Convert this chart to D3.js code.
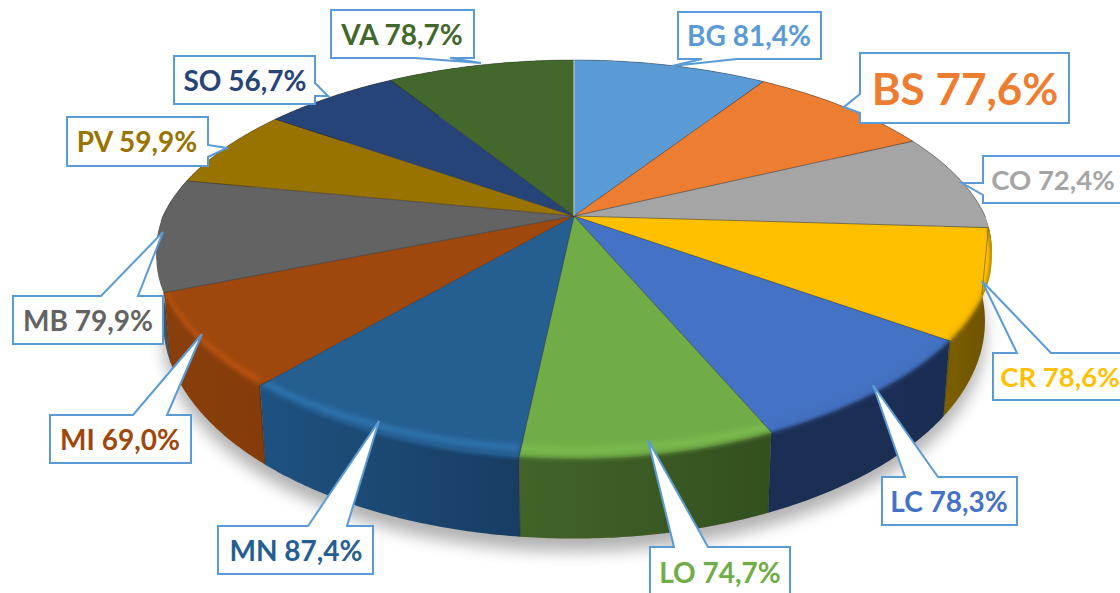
<!DOCTYPE html>
<html>
<head>
<meta charset="utf-8">
<script src="https://cdn.jsdelivr.net/npm/d3@7"></script>
<style>
  html, body { margin: 0; background: #fff; overflow: hidden; }
  svg { display: block; }
  .label { font-family: Lato, "Open Sans", sans-serif; font-weight: 700; text-anchor: middle; }
</style>
</head>
<body>
<svg id="chart"></svg>
<script>
// data
const provinces = ['BG', 'BS', 'CO', 'CR', 'LC', 'LO', 'MN', 'MI', 'MB', 'PV', 'SO', 'VA'];
const rates = [81.4, 77.6, 72.4, 78.6, 78.3, 74.7, 87.4, 69.0, 79.9, 59.9, 56.7, 78.7];

// styles per slice
const topColors = ['#5b9bd5', '#ed7d31', '#a5a5a5', '#ffc000', '#4472c4', '#70ad47', '#255e91', '#9e480e', '#636363', '#997300', '#264478', '#43682b'];
const wallLeft = ['#3a6c99', '#a85820', '#777777', '#7d5f00', '#1b2f55', '#426428', '#1e5280', '#8a3f0b', '#555555', '#6b5000', '#1a3055', '#2f4a1f'];
const wallRight = ['#3a6c99', '#a85820', '#777777', '#6d5200', '#1b2d52', '#33501f', '#183d63', '#843c0a', '#4a4a4a', '#6b5000', '#1a3055', '#2f4a1f'];
const bandColors = ['#5b9bd5', '#ed7d31', '#a5a5a5', '#f5b800', '#4270bf', '#7cbb50', '#2f74b0', '#b9530f', '#6c6c6c', '#997300', '#264478', '#43682b'];

// callout boxes: box [x0, y0, x1, y1], side the pointer leaves from, base on that side, tip, text centre
const callouts = [
  { box: [678, 12, 821, 59], side: 'bottom', base: [702, 737], tip: [672, 66], text: [749, 36], size: 28 },
  { box: [860, 53, 1069, 123], side: 'left', base: [94, 113], tip: [844, 107], text: [965, 89], size: 44 },
  { box: [983, 156, 1130, 203], side: 'left', base: [183, 195], tip: [962, 183], text: [1053, 180], size: 27.5 },
  { box: [993, 353, 1130, 400], side: 'top', base: [1017, 1051], tip: [982, 281], text: [1060, 377], size: 27.5 },
  { box: [882, 477, 1017, 525], side: 'top', base: [905, 938], tip: [873, 385], text: [949, 502], size: 28 },
  { box: [650, 547, 790, 610], side: 'top', base: [674, 708], tip: [648, 440], text: [720, 573], size: 28 },
  { box: [218, 526, 373, 574], side: 'top', base: [308, 347], tip: [379, 421], text: [296, 551], size: 28 },
  { box: [50, 415, 191, 463], side: 'top', base: [133, 167], tip: [202, 334], text: [120, 440], size: 28 },
  { box: [13, 296, 163, 344], side: 'top', base: [101, 138], tip: [163, 232], text: [88, 321], size: 28 },
  { box: [67, 117, 208, 166], side: 'right', base: [145, 157], tip: [227, 148], text: [137, 142], size: 28 },
  { box: [174, 56, 315, 104], side: 'right', base: [83, 96], tip: [328, 96], text: [245, 81], size: 28 },
  { box: [331, 10, 474, 58], side: 'bottom', base: [415, 450], tip: [481, 63], text: [402, 35], size: 28 }
];

const width = 1120, height = 593;
const cx = 574, cy = 216;
const radius = 411;
const tilt = 0.179;

const commaFormat = d3.formatLocale({ decimal: ',', thousands: '.', grouping: [3], currency: ['', ''] }).format('.1f');
const color = d3.scaleOrdinal().domain(provinces).range(topColors);

const pie = d3.pie().sort(null).value((d, i) => rates[i]);
const slices = pie(provinces);

// perspective projection of the disc, top and bottom faces
function topPoint(a, r = 1) {
  const u = r * Math.sin(a), v = -r * Math.cos(a);
  const p = 1 / (1 - tilt * v);
  return [cx + radius * u * p * (1 + 0.025 * Math.min(v, 0)), cy + 183.9 * v * p];
}
function bottomPoint(a, r = 1) {
  const u = r * Math.sin(a), v = -r * Math.cos(a);
  const p = 1 / (1 - tilt * v + 0.016);
  return [cx + radius * u * p, cy + (202 * v + 68) * p];
}
// how far the rounded edge runs down the wall, more on the front of the pie
function bevel(a) {
  const v = Math.max(-Math.cos(a), 0);
  return (7 + 12 * Math.pow(v, 4)) * Math.min(1, v / 0.25);
}
function rimPoint(a, share = 1) {
  const [x, y] = topPoint(a);
  return [x, y + bevel(a) * share];
}
function arcAngles(d) {
  const n = Math.ceil((d.endAngle - d.startAngle) / 0.01);
  return d3.range(n + 1).map(i => d.startAngle + (d.endAngle - d.startAngle) * i / n);
}
const midFront = d => -Math.cos((d.startAngle + d.endAngle) / 2);

const line = d3.line();

const svg = d3.select('#chart').attr('width', width).attr('height', height);
const defs = svg.append('defs');

const blur = (id, dev) => defs.append('filter')
  .attr('id', id)
  .attr('filterUnits', 'userSpaceOnUse')
  .attr('x', 0).attr('y', 0).attr('width', width).attr('height', height)
  .append('feGaussianBlur').attr('stdDeviation', dev);
blur('shadowBlur', 8);
blur('bandBlur', 2.5);
blur('edgeBlur', 1.5);

// shadow under the pie
const outline = d3.range(0, 2 * Math.PI, 0.02);
svg.append('path')
  .attr('d', line(outline.map(a => bottomPoint(a))) + 'Z')
  .attr('transform', 'translate(0, 13)')
  .attr('fill', '#000')
  .attr('opacity', 0.3)
  .attr('filter', 'url(#shadowBlur)');

const pieG = svg.append('g');

const wallOrder = d3.range(slices.length).sort((a, b) => midFront(slices[a]) - midFront(slices[b]));

slices.forEach((d, i) => {
  const g = defs.append('linearGradient').attr('id', `wall${i}`);
  g.append('stop').attr('offset', 0).attr('stop-color', wallLeft[i]);
  g.append('stop').attr('offset', 1).attr('stop-color', wallRight[i]);
});

function wallPath(d) {
  const angles = arcAngles(d);
  return line(angles.map(a => topPoint(a)).concat(angles.slice().reverse().map(a => bottomPoint(a)))) + 'Z';
}
function facePath(d) {
  return line([[cx, cy]].concat(arcAngles(d).map(a => rimPoint(a)))) + 'Z';
}

// side walls, back to front
wallOrder.forEach(i => {
  pieG.append('path')
    .attr('d', wallPath(slices[i]))
    .attr('fill', `url(#wall${i})`);
});

slices.forEach((d, i) => {
  defs.append('clipPath').attr('id', `faceClip${i}`)
    .append('path').attr('d', facePath(d));
  const clip = defs.append('clipPath').attr('id', `clip${i}`);
  clip.append('path').attr('d', wallPath(d));
  clip.append('path').attr('d', facePath(d));
});

// top faces
pieG.selectAll('.face')
  .data(slices)
  .join('path')
  .attr('class', 'face')
  .attr('d', facePath)
  .attr('fill', (d, i) => color(provinces[i]));

// rounded edge: a light band on the face and a soft step into the wall
const frontSlices = slices.map((d, i) => ({ d, i })).filter(s => midFront(s.d) > 0.25);

pieG.selectAll('.band')
  .data(frontSlices)
  .join('g')
  .attr('class', 'band')
  .attr('clip-path', s => `url(#faceClip${s.i})`)
  .append('path')
  .attr('d', s => line(arcAngles(s.d).map(a => rimPoint(a, 0.5))))
  .attr('fill', 'none')
  .attr('stroke', s => bandColors[s.i])
  .attr('stroke-width', 6)
  .attr('filter', 'url(#bandBlur)');

pieG.selectAll('.step')
  .data(frontSlices)
  .join('g')
  .attr('class', 'step')
  .attr('clip-path', s => `url(#clip${s.i})`)
  .append('path')
  .attr('d', s => line(arcAngles(s.d).map(a => rimPoint(a))))
  .attr('fill', 'none')
  .attr('stroke', s => d3.interpolateRgb(bandColors[s.i], wallLeft[s.i])(0.7))
  .attr('stroke-width', 3)
  .attr('filter', 'url(#edgeBlur)');

// thin lines between slices
pieG.selectAll('.edge')
  .data(slices)
  .join('path')
  .attr('class', 'edge')
  .attr('d', d => line([rimPoint(d.startAngle), [cx, cy]]))
  .attr('fill', 'none')
  .attr('stroke', '#2b2b2b')
  .attr('stroke-opacity', 0.5)
  .attr('stroke-width', 1);

pieG.selectAll('.seam')
  .data(slices.filter(d => -Math.cos(d.startAngle) > 0))
  .join('path')
  .attr('class', 'seam')
  .attr('d', d => line([rimPoint(d.startAngle), bottomPoint(d.startAngle)]))
  .attr('fill', 'none')
  .attr('stroke', '#10203a')
  .attr('stroke-opacity', 0.4)
  .attr('stroke-width', 1);

// dark hairline round the back edge
pieG.append('path')
  .attr('d', line(d3.range(-1.6, 1.6, 0.02).map(a => topPoint(a))))
  .attr('fill', 'none')
  .attr('stroke', '#3a3a3a')
  .attr('stroke-opacity', 0.45)
  .attr('stroke-width', 1);

pieG.append('path')
  .attr('d', line([topPoint(0), [cx, cy]]))
  .attr('stroke', '#fff')
  .attr('stroke-opacity', 0.8)
  .attr('stroke-width', 1);

// callouts
function calloutPath(c) {
  const [x0, y0, x1, y1] = c.box;
  const [b0, b1] = c.base;
  let pts;
  if (c.side === 'top') pts = [[x0, y0], [b0, y0], c.tip, [b1, y0], [x1, y0], [x1, y1], [x0, y1]];
  if (c.side === 'bottom') pts = [[x0, y0], [x1, y0], [x1, y1], [b1, y1], c.tip, [b0, y1], [x0, y1]];
  if (c.side === 'left') pts = [[x0, y0], [x1, y0], [x1, y1], [x0, y1], [x0, b1], c.tip, [x0, b0]];
  if (c.side === 'right') pts = [[x0, y0], [x1, y0], [x1, b0], c.tip, [x1, b1], [x1, y1], [x0, y1]];
  return line(pts) + 'Z';
}

const labels = svg.selectAll('.callout')
  .data(provinces)
  .join('g')
  .attr('class', 'callout');

labels.append('path')
  .attr('d', (d, i) => calloutPath(callouts[i]))
  .attr('fill', '#fff')
  .attr('stroke', '#5b9bd5')
  .attr('stroke-width', 2)
  .attr('stroke-linejoin', 'miter');

labels.append('text')
  .attr('class', 'label')
  .attr('x', (d, i) => callouts[i].text[0])
  .attr('y', (d, i) => callouts[i].text[1])
  .attr('dy', '0.36em')
  .attr('font-size', (d, i) => callouts[i].size)
  .attr('fill', d => color(d))
  .text((d, i) => `${d} ${commaFormat(rates[i])}%`);
</script>
</body>
</html>
